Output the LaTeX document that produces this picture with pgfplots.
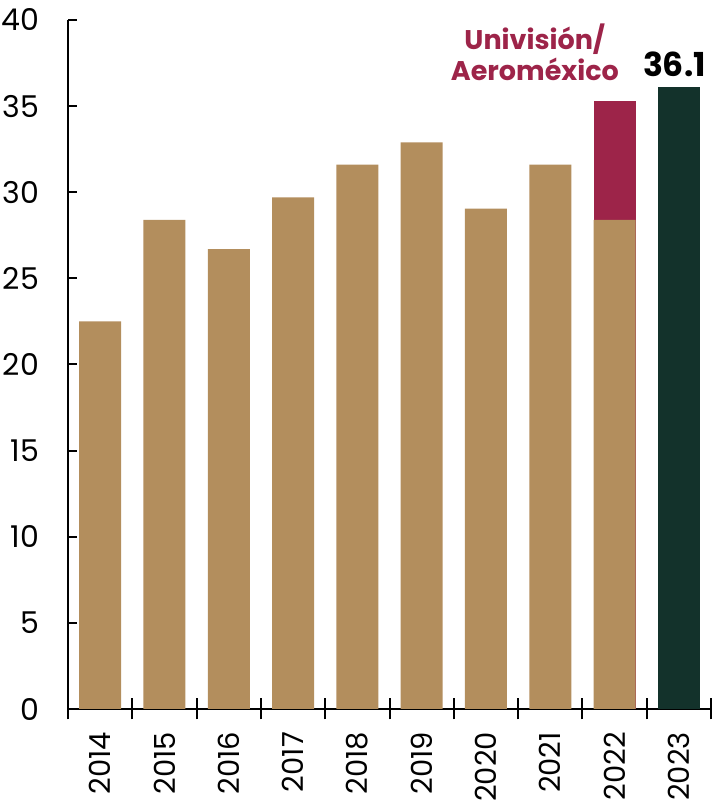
\documentclass[border=0pt]{standalone}
\usepackage{pgfplots}
\pgfplotsset{compat=1.18}
\usepackage{fontspec}
\setmainfont{Poppins}
\definecolor{tan}{HTML}{B38E5D}
\definecolor{wine}{HTML}{9D2449}
\definecolor{dgreen}{HTML}{13322B}
\begin{document}
\begin{tikzpicture}
\begin{axis}[name=ax,
  scale only axis, width=321.5pt, height=344.5pt,
  xmin=-0.5, xmax=9.5, ymin=0, ymax=40,
  axis lines*=left,
  axis line style={line width=1pt, black},
  tick style={line width=1pt, black},
  tick align=inside,
  major tick length=4.5pt,
  minor tick length=10.5pt,
  ytick={0,5,...,40},
  xtick={0,...,9},
  xticklabels={2014,2015,2016,2017,2018,2019,2020,2021,2022,2023},
  every major x tick/.append style={draw=none},
  minor xtick={-0.5,0.5,...,9.5},
  every minor x tick/.append style={yshift=5.25pt},
  /pgf/number format/assume math mode=true,
  tick label style={font=\fontsize{15}{18}\selectfont},
  yticklabel style={xshift=-11pt},
  xticklabel style={font=\fontsize{14.5}{17}\selectfont, yshift=-3.5pt, rotate=90, anchor=east},
  ybar, bar width=21pt, bar shift=0pt,
  clip=false,
]
\addplot[fill=wine, draw=none] coordinates {(8,35.3)};
\addplot[fill=tan, draw=none] coordinates {(0,22.5)(1,28.4)(2,26.7)(3,29.7)(4,31.6)(5,32.9)(6,29.05)(7,31.6)(8,28.4)};
\addplot[fill=dgreen, draw=none] coordinates {(9,36.1)};
\node[font=\bfseries\fontsize{13.5}{15.5}\selectfont, text=wine, align=center] at (axis cs:6.76,38.14) {Univisión/\\Aeroméxico};
\node[font=\bfseries\fontsize{16.5}{19}\selectfont] at (axis cs:8.93,37.45) {36.1};
\end{axis}
\pgfresetboundingbox
\path ([xshift=-34pt,yshift=-47pt]ax.south west) rectangle ([xshift=0.5pt,yshift=10pt]ax.north east);
\end{tikzpicture}
\end{document}
